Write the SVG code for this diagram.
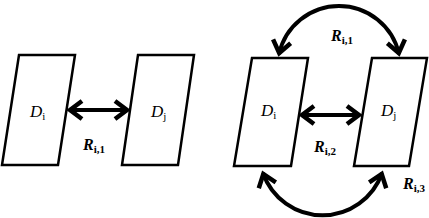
<svg xmlns="http://www.w3.org/2000/svg" width="429" height="218" viewBox="0 0 429 218">
<style>
.box{fill:#fff;stroke:#000;stroke-width:2.5;stroke-linejoin:miter}
.con{fill:none;stroke:#000;stroke-width:4}
.d{font-family:"Liberation Serif",serif;font-size:17px;font-style:italic;fill:#000}
.d .s{font-style:normal;font-size:11px}
.r{font-family:"Liberation Serif",serif;font-size:16px;font-style:italic;font-weight:bold;fill:#000}
.r .s{font-style:normal;font-size:11px}
</style>
<defs>
<marker id="ah" markerUnits="userSpaceOnUse" markerWidth="30" markerHeight="30" refX="-3" refY="0" orient="auto-start-reverse" overflow="visible" viewBox="-20 -15 30 30">
<path d="M-16,-9 L-4,0 L-16,9" fill="none" stroke="#000" stroke-width="4.5" stroke-linejoin="miter"/>
</marker>
</defs>
<g id="left-Di">
<polygon class="box" points="19,55 75,55 58,165 2,165"/>
<text class="d" x="30" y="117">D<tspan class="s" dy="3">i</tspan></text>
</g>
<g id="left-Dj">
<polygon class="box" points="138,55 194,55 178,165 122,165"/>
<text class="d" x="151" y="117">D<tspan class="s" dy="3">j</tspan></text>
</g>
<g id="right-Di">
<polygon class="box" points="252,58 308,58 291,166 234,166"/>
<text class="d" x="261" y="116">D<tspan class="s" dy="3">i</tspan></text>
</g>
<g id="right-Dj">
<polygon class="box" points="372,58 427,58 409,166 354,166"/>
<text class="d" x="381" y="116">D<tspan class="s" dy="3">j</tspan></text>
</g>
<g id="connectors">
<path class="con" d="M69,110 L128,110" marker-start="url(#ah)" marker-end="url(#ah)"/>
<path class="con" d="M301,115 L360,115" marker-start="url(#ah)" marker-end="url(#ah)"/>
<path class="con" d="M279,54 A61.5,61.5 0 0 1 399,54" marker-start="url(#ah)" marker-end="url(#ah)"/>
<path class="con" d="M263,173 A63,63 0 0 0 382,173" marker-start="url(#ah)" marker-end="url(#ah)"/>
</g>
<g id="labels">
<text class="r" x="83" y="150">R<tspan class="s" dy="3">i,1</tspan></text>
<text class="r" x="331" y="41">R<tspan class="s" dy="3">i,1</tspan></text>
<text class="r" x="314" y="152">R<tspan class="s" dy="3">i,2</tspan></text>
<text class="r" x="403" y="189">R<tspan class="s" dy="3">i,3</tspan></text>
</g>
</svg>
